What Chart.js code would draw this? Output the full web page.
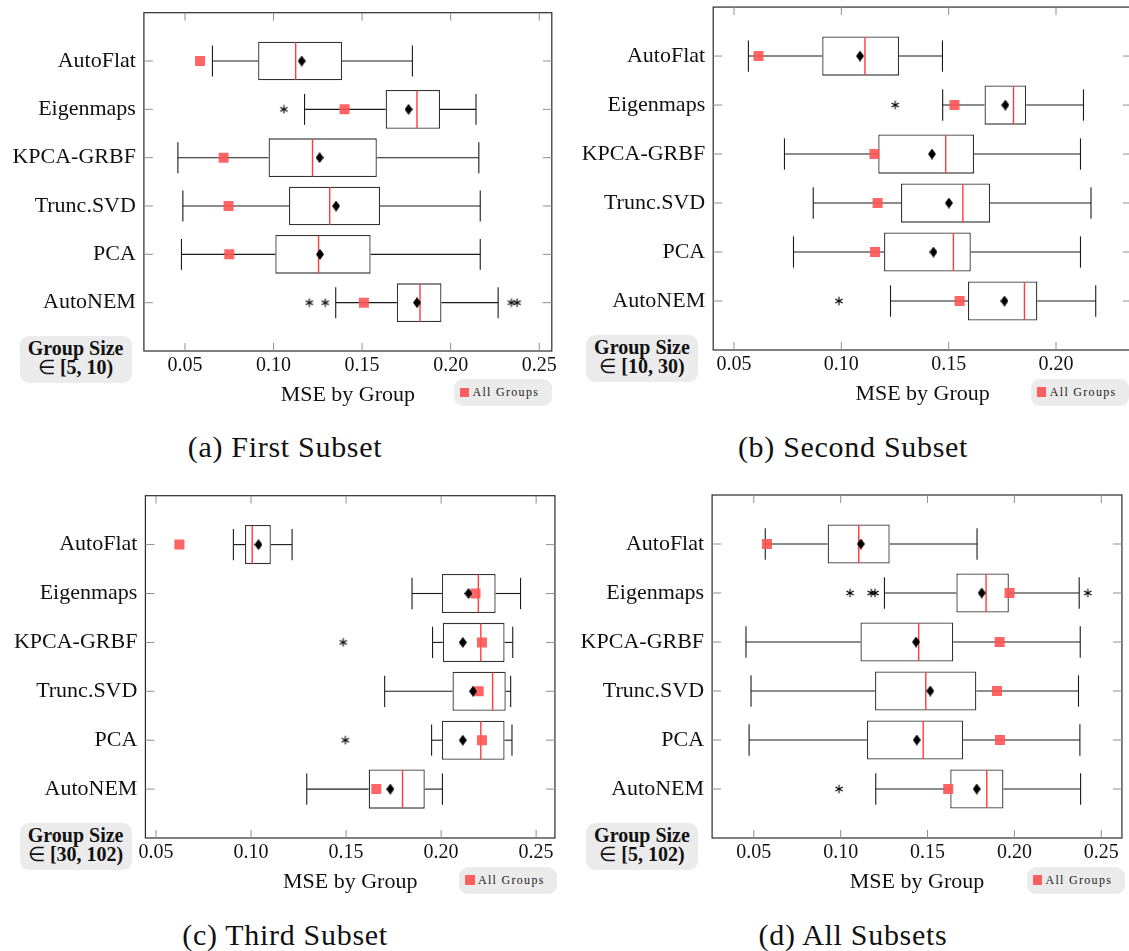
<!DOCTYPE html>
<html>
<head>
<meta charset="utf-8">
<script src="https://cdn.jsdelivr.net/npm/chart.js@4.4.1/dist/chart.umd.min.js"></script>
<style>
  html, body { margin: 0; padding: 0; background: #fff; }
  body { position: relative; width: 1129px; height: 951px; overflow: hidden;
         font-family: "Liberation Serif", "Times New Roman", serif; color: #111; }
  canvas { position: absolute; }
  .gs { position: absolute; width: 112px; height: 47px; background: #ebebeb; border-radius: 9px;
        text-align: center; font-size: 20px; line-height: 19.5px; box-sizing: border-box; padding-top: 2.5px; }
  .lg { position: absolute; width: 98px; height: 27px; background: #ebebeb; border-radius: 9px; }
  .lg i { position: absolute; left: 6px; top: 8.5px; width: 9.5px; height: 9.5px; background: #ff5e5e; }
  .lg span { position: absolute; left: 19px; top: 0; line-height: 27px; font-size: 12px;
             letter-spacing: 1.3px; color: #222; white-space: nowrap; }
  .cap { position: absolute; width: 560px; text-align: center; font-size: 30px; line-height: 36px;
         letter-spacing: 0.7px; white-space: nowrap; }
</style>
</head>
<body>

<div class="gs" style="left:19.6px;top:336px"><b>Group Size</b><br>∈ <b>[5, 10)</b></div>
<div class="gs" style="left:586px;top:335px"><b>Group Size</b><br>∈ <b>[10, 30)</b></div>
<div class="gs" style="left:19.6px;top:823px"><b>Group Size</b><br>∈ <b>[30, 102)</b></div>
<div class="gs" style="left:586px;top:823px"><b>Group Size</b><br>∈ <b>[5, 102)</b></div>

<div class="lg" style="left:453.5px;top:379.3px"><i></i><span>All Groups</span></div>
<div class="lg" style="left:1030.8px;top:378.5px"><i></i><span>All Groups</span></div>
<div class="lg" style="left:459px;top:866.7px"><i></i><span>All Groups</span></div>
<div class="lg" style="left:1026.5px;top:866.7px"><i></i><span>All Groups</span></div>

<div class="cap" style="left:5px;top:428.5px">(a) First Subset</div>
<div class="cap" style="left:573px;top:428.5px">(b) Second Subset</div>
<div class="cap" style="left:5px;top:917px">(c) Third Subset</div>
<div class="cap" style="left:573px;top:917px">(d) All Subsets</div>

<script>
// Methods compared, top to bottom
const categories = ['AutoFlat', 'Eigenmaps', 'KPCA-GRBF', 'Trunc.SVD', 'PCA', 'AutoNEM'];
const tickValues = [0.05, 0.10, 0.15, 0.20, 0.25];
const tickLabels = ['0.05', '0.10', '0.15', '0.20', '0.25'];

// (a) group size in [5, 10)
const firstLow    = [0.0655, 0.1175, 0.0460, 0.0488, 0.0480, 0.1351];
const firstQ1     = [0.0913, 0.1633, 0.0972, 0.1087, 0.1010, 0.1696];
const firstMedian = [0.1125, 0.1810, 0.1220, 0.1317, 0.1254, 0.1827];
const firstQ3     = [0.1387, 0.1940, 0.1583, 0.1601, 0.1548, 0.1948];
const firstHigh   = [0.1784, 0.2143, 0.2159, 0.2167, 0.2167, 0.2268];
const firstMean   = [0.1159, 0.1762, 0.1260, 0.1353, 0.1262, 0.1810];
const firstAll    = [0.0585, 0.1401, 0.0718, 0.0746, 0.0750, 0.1510];
const firstOut    = [[], [0.1058], [], [], [], [0.1202, 0.1292, 0.2343, 0.2375]];

// (b) group size in [10, 30)
const secondLow    = [0.0567, 0.1472, 0.0735, 0.0869, 0.0777, 0.1229];
const secondQ1     = [0.0911, 0.1667, 0.1172, 0.1278, 0.1199, 0.1590];
const secondMedian = [0.1110, 0.1802, 0.1486, 0.1566, 0.1522, 0.1853];
const secondQ3     = [0.1269, 0.1861, 0.1618, 0.1693, 0.1603, 0.1913];
const secondHigh   = [0.1471, 0.2128, 0.2114, 0.2163, 0.2114, 0.2185];
const secondMean   = [0.1087, 0.1764, 0.1422, 0.1501, 0.1429, 0.1760];
const secondAll    = [0.0614, 0.1527, 0.1154, 0.1169, 0.1157, 0.1551];
const secondOut    = [[], [0.1251], [], [], [], [0.0989]];

// (c) group size in [30, 102)
const thirdLow    = [0.0907, 0.1847, 0.1955, 0.1703, 0.1950, 0.1293];
const thirdQ1     = [0.0968, 0.2004, 0.2009, 0.2060, 0.2004, 0.1619];
const thirdMedian = [0.1006, 0.2196, 0.2209, 0.2271, 0.2209, 0.1797];
const thirdQ3     = [0.1104, 0.2287, 0.2334, 0.2340, 0.2334, 0.1914];
const thirdHigh   = [0.1216, 0.2418, 0.2377, 0.2366, 0.2373, 0.2007];
const thirdMean   = [0.1039, 0.2144, 0.2114, 0.2168, 0.2114, 0.1733];
const thirdAll    = [0.0623, 0.2181, 0.2215, 0.2198, 0.2215, 0.1659];
const thirdOut    = [[], [], [0.1485], [], [0.1496], []];

// (d) all group sizes, [5, 102)
const allLow    = [0.0566, 0.1252, 0.0455, 0.0484, 0.0473, 0.1202];
const allQ1     = [0.0925, 0.1666, 0.1114, 0.1198, 0.1151, 0.1631];
const allMedian = [0.1104, 0.1837, 0.1449, 0.1490, 0.1475, 0.1841];
const allQ3     = [0.1282, 0.1968, 0.1648, 0.1781, 0.1705, 0.1937];
const allHigh   = [0.1785, 0.2373, 0.2379, 0.2369, 0.2377, 0.2381];
const allMean   = [0.1116, 0.1812, 0.1434, 0.1516, 0.1438, 0.1783];
const allAll    = [0.0576, 0.1972, 0.1915, 0.1900, 0.1917, 0.1619];
const allOut    = [[], [0.1054, 0.1176, 0.1198, 0.2422], [], [], [], [0.0991]];

const FONT = '"Liberation Serif", "Times New Roman", serif';
const AXIS_H = 60;

// marker glyphs
function makeDiamond() {
  const c = document.createElement('canvas');
  c.width = 8; c.height = 11;
  const g = c.getContext('2d');
  g.fillStyle = '#000';
  g.beginPath(); g.moveTo(4, 0); g.lineTo(8, 5.5); g.lineTo(4, 11); g.lineTo(0, 5.5); g.closePath(); g.fill();
  return c;
}
function makeAsterisk() {
  const c = document.createElement('canvas');
  c.width = 10; c.height = 10;
  const g = c.getContext('2d');
  g.strokeStyle = '#000'; g.lineWidth = 1.1;
  const r = 4.2;
  for (let k = 0; k < 3; k++) {
    const ang = Math.PI / 2 + k * Math.PI / 3;
    g.beginPath();
    g.moveTo(5 + r * Math.cos(ang), 5 - r * Math.sin(ang));
    g.lineTo(5 - r * Math.cos(ang), 5 + r * Math.sin(ang));
    g.stroke();
  }
  return c;
}
const diamond = makeDiamond();
const asterisk = makeAsterisk();

const panels = [
  { left: 0,   top: 0,   width: 560, frame: { l: 143.9, t: 12.7,  r: 551.8,  b: 351 },   range: [0.0268, 0.2571],
    s: { low: firstLow, q1: firstQ1, med: firstMedian, q3: firstQ3, high: firstHigh, mean: firstMean, all: firstAll, out: firstOut } },
  { left: 565, top: 0,   width: 575, frame: { l: 713.2, t: 3.3,   r: 1132,   b: 350 },   range: [0.0403, 0.2354],
    s: { low: secondLow, q1: secondQ1, med: secondMedian, q3: secondQ3, high: secondHigh, mean: secondMean, all: secondAll, out: secondOut } },
  { left: 0,   top: 480, width: 562, frame: { l: 145.4, t: 495.7, r: 557.9,  b: 838.3 }, range: [0.0444, 0.2599],
    s: { low: thirdLow, q1: thirdQ1, med: thirdMedian, q3: thirdQ3, high: thirdHigh, mean: thirdMean, all: thirdAll, out: thirdOut } },
  { left: 565, top: 480, width: 564, frame: { l: 712.1, t: 495,   r: 1125.4, b: 838.3 }, range: [0.0260, 0.2619],
    s: { low: allLow, q1: allQ1, med: allMedian, q3: allQ3, high: allHigh, mean: allMean, all: allAll, out: allOut } }
];

function buildPanel(p) {
  const f = p.frame, s = p.s;
  const cv = document.createElement('canvas');
  cv.width = p.width;
  cv.height = Math.round(f.b - p.top + AXIS_H);
  cv.style.left = p.left + 'px';
  cv.style.top = p.top + 'px';
  document.body.appendChild(cv);

  const outPts = [];
  s.out.forEach((arr, i) => arr.forEach(v => outPts.push({ x: v, y: i + 1 })));

  const line = (ctx, x1, y1, x2, y2) => { ctx.beginPath(); ctx.moveTo(x1, y1); ctx.lineTo(x2, y2); ctx.stroke(); };

  // frame, inner ticks, whiskers and medians
  const boxParts = {
    id: 'boxParts',
    beforeDatasetsDraw(chart) {
      const { ctx, chartArea: a, scales: { x, y } } = chart;
      const step = Math.abs(y.getPixelForValue(2) - y.getPixelForValue(1));
      ctx.save();
      ctx.strokeStyle = '#2b2b2b'; ctx.lineWidth = 1.2;
      ctx.strokeRect(a.left, a.top, a.right - a.left, a.bottom - a.top);
      ctx.strokeStyle = '#8f8f8f'; ctx.lineWidth = 1;
      x.ticks.forEach(t => {
        const px = x.getPixelForValue(t.value);
        line(ctx, px, a.bottom, px, a.bottom - 8);
        line(ctx, px, a.top, px, a.top + 8);
      });
      y.ticks.forEach(t => {
        const py = y.getPixelForValue(t.value);
        line(ctx, a.left, py, a.left + 9, py);
        line(ctx, a.right - 9, py, a.right, py);
      });
      ctx.strokeStyle = '#1a1a1a'; ctx.lineWidth = 1.1;
      const h = 0.32 * step;
      s.low.forEach((lo, i) => {
        const py = y.getPixelForValue(i + 1);
        const xl = x.getPixelForValue(lo), x1 = x.getPixelForValue(s.q1[i]);
        const x3 = x.getPixelForValue(s.q3[i]), xh = x.getPixelForValue(s.high[i]);
        line(ctx, xl, py, x1, py);
        line(ctx, x3, py, xh, py);
        line(ctx, xl, py - h, xl, py + h);
        line(ctx, xh, py - h, xh, py + h);
      });
      ctx.restore();
    },
    afterDatasetDraw(chart, args) {
      if (args.index !== 0) return;
      const { ctx, scales: { x, y } } = chart;
      const step = Math.abs(y.getPixelForValue(2) - y.getPixelForValue(1));
      const h = 0.4 * step - 0.6;
      ctx.save();
      ctx.strokeStyle = '#ff3b3b'; ctx.lineWidth = 1.4;
      s.med.forEach((m, i) => {
        const px = x.getPixelForValue(m), py = y.getPixelForValue(i + 1);
        line(ctx, px, py - h, px, py + h);
      });
      ctx.restore();
    }
  };

  new Chart(cv, {
    type: 'bar',
    data: {
      datasets: [
        { type: 'bar', label: 'box', order: 4,
          data: s.q1.map((q, i) => ({ y: i + 1, x: [q, s.q3[i]] })),
          backgroundColor: '#ffffff', borderColor: '#333333', borderWidth: 1.3, borderSkipped: false,
          barPercentage: 0.8, categoryPercentage: 1.0, grouped: false },
        { type: 'scatter', label: 'All Groups', order: 3,
          data: s.all.map((v, i) => ({ x: v, y: i + 1 })),
          pointStyle: 'rect', pointRadius: 7.07, backgroundColor: 'rgba(255, 84, 84, 0.9)', borderWidth: 0 },
        { type: 'scatter', label: 'mean', order: 2,
          data: s.mean.map((v, i) => ({ x: v, y: i + 1 })),
          pointStyle: diamond, pointRadius: 5 },
        { type: 'scatter', label: 'outliers', order: 1,
          data: outPts, pointStyle: asterisk, pointRadius: 5 }
      ]
    },
    options: {
      indexAxis: 'y',
      responsive: false,
      animation: false,
      events: [],
      layout: { padding: { left: 0, right: p.left + p.width - f.r, top: f.t - p.top, bottom: 0 } },
      plugins: { legend: { display: false }, tooltip: { enabled: false } },
      scales: {
        x: {
          type: 'linear', position: 'bottom', min: p.range[0], max: p.range[1],
          beginAtZero: false, bounds: 'data', offset: false,
          afterBuildTicks: sc => { sc.ticks = tickValues.filter(v => v >= sc.min && v <= sc.max).map(v => ({ value: v })); },
          afterFit: sc => { sc.height = AXIS_H; sc.paddingLeft = 0; sc.paddingRight = 0; },
          grid: { display: false, drawTicks: false },
          border: { display: false },
          ticks: {
            padding: 3, color: '#111', autoSkip: false, maxRotation: 0, minRotation: 0,
            font: { family: FONT, size: 20, lineHeight: 1.2 },
            callback: v => { const k = tickValues.findIndex(t => Math.abs(t - v) < 1e-9); return k < 0 ? '' : tickLabels[k]; }
          },
          title: { display: true, text: 'MSE by Group', color: '#111',
                   font: { family: FONT, size: 22, lineHeight: 1.2 }, padding: { top: 0, bottom: 2.5 } }
        },
        y: {
          type: 'linear', position: 'left', min: 0, max: categories.length + 1, reverse: true,
          offset: false, bounds: 'data', beginAtZero: false,
          afterBuildTicks: sc => { sc.ticks = categories.map((c, i) => ({ value: i + 1 })); },
          afterFit: sc => { sc.width = f.l - p.left; sc.paddingTop = 0; sc.paddingBottom = 0; },
          grid: { display: false, drawTicks: false, offset: false },
          border: { display: false },
          ticks: {
            padding: 8, color: '#111', autoSkip: false,
            font: { family: FONT, size: 22, lineHeight: 1.2 },
            callback: v => categories[Math.round(v) - 1] || ''
          }
        }
      }
    },
    plugins: [boxParts]
  });
}

panels.forEach(buildPanel);
</script>
</body>
</html>
